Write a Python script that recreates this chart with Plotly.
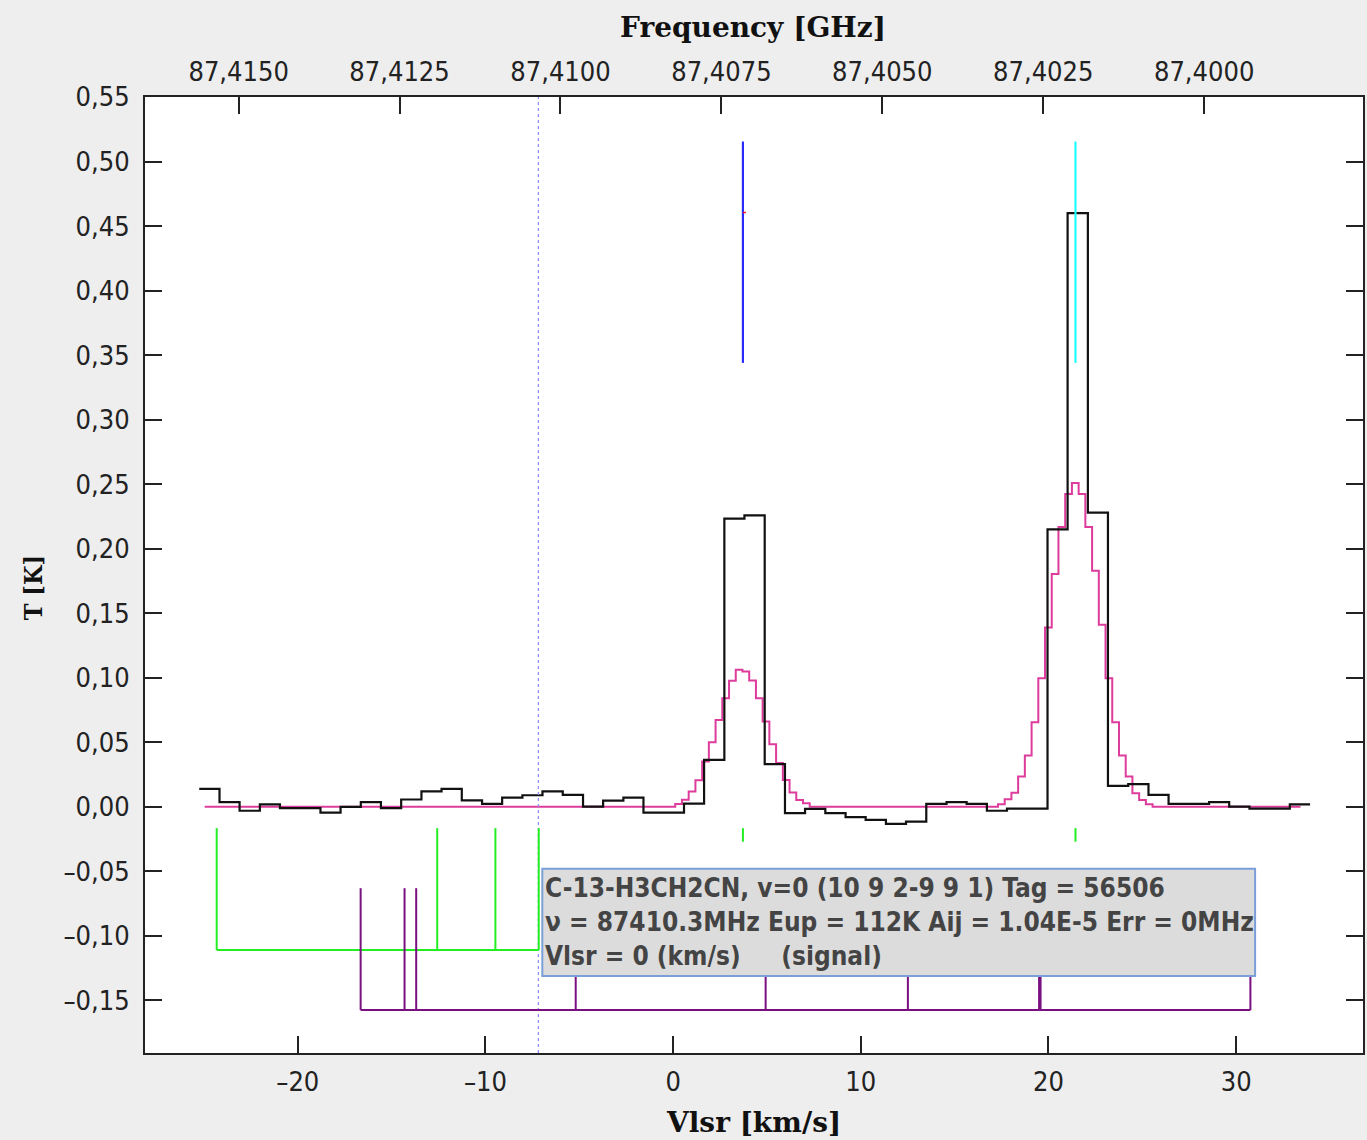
import plotly.graph_objects as go

# ---------------- data ----------------
# observed spectrum: channel left edges [km/s] (last value = right edge of last channel)
obs_vel = [-25.25, -24.17, -23.10, -22.02, -20.95, -19.87, -18.79, -17.72, -16.64, -15.57,
           -14.49, -13.41, -12.34, -11.26, -10.18, -9.11, -8.03, -6.96, -5.88, -4.80,
           -3.73, -2.65, -1.58, -0.50, 0.58, 1.65, 2.73, 3.80, 4.88, 5.96,
           7.03, 8.11, 9.19, 10.26, 11.34, 12.41, 13.49, 14.57, 15.64, 16.72,
           17.79, 18.87, 19.95, 21.02, 22.10, 23.17, 24.25, 25.33, 26.40, 27.48,
           28.56, 29.63, 30.71, 31.78, 32.86, 33.94]
obs_T = [0.014, 0.0036, -0.003, 0.002, -0.001, -0.001, -0.0045, 0.000, 0.0036, -0.001,
         0.0057, 0.012, 0.014, 0.005, 0.0023, 0.0072, 0.009, 0.012, 0.0093, 0.0002,
         0.0049, 0.0072, -0.0044, -0.0044, 0.0025, 0.0364, 0.2233, 0.2258, 0.0331, -0.0049,
         -0.0016, -0.0049, -0.008, -0.010, -0.0132, -0.0114, 0.0023, 0.0036, 0.0023, -0.003,
         -0.0013, -0.0013, 0.215, 0.460, 0.228, 0.0163, 0.0176, 0.0093, 0.0023, 0.0023,
         0.0036, 0.0002, -0.0013, -0.0013, 0.002]

# synthetic model spectrum: step left edges [km/s] and values [K]
model_vel = [-24.96,
             0.114, 0.472, 0.830, 1.189, 1.547, 1.905, 2.263, 2.621, 2.980, 3.338,
             3.696, 4.054, 4.413, 4.771, 5.129, 5.487, 5.846, 6.204, 6.562, 6.920,
             7.279,
             17.309, 17.668, 18.026, 18.384, 18.742, 19.101, 19.459, 19.817, 20.175, 20.533,
             20.892, 21.250, 21.608, 21.966, 22.325, 22.683, 23.041, 23.399, 23.758, 24.116,
             24.474, 24.832, 25.191, 25.549,
             33.43]
model_T = [0.0,
           0.0023, 0.0055, 0.0119, 0.0207, 0.0351, 0.0501, 0.0674, 0.0842, 0.0977, 0.1062,
           0.1049, 0.0979, 0.0842, 0.0661, 0.0486, 0.0339, 0.0209, 0.0111, 0.0054, 0.0028,
           0.0,
           0.002, 0.006, 0.011, 0.0235, 0.0398, 0.0656, 0.0997, 0.139, 0.1804, 0.2168,
           0.2424, 0.2509, 0.2424, 0.2168, 0.1829, 0.1411, 0.0997, 0.0656, 0.0398, 0.0235,
           0.0106, 0.0054, 0.002, 0.0,
           0.0]

# identified-line markers
blue_marker_vel = 3.72
cyan_marker_vel = 21.44
marker_T = [0.344, 0.5155]
red_mark_vel = [3.72, 3.88]
red_mark_T = 0.4605
selected_line_vel = -7.18

green_vel = [-24.32, -12.57, -9.47, -7.16]
green_short_vel = [3.72, 21.44]
green_T = [-0.0165, -0.1109]
green_short_T = [-0.0165, -0.027]

purple_vel = [-16.65, -14.31, -13.69, -5.19, 4.93, 12.51, 19.50, 19.58, 30.76]
purple_T = [-0.063, -0.1574]

# axis ticks
vel_ticks = [-20, -10, 0, 10, 20, 30]
vel_tick_text = ["\u201320", "\u201310", "0", "10", "20", "30"]
freq_ticks = [87.4150, 87.4125, 87.4100, 87.4075, 87.4050, 87.4025, 87.4000]
freq_tick_text = ["87,4150", "87,4125", "87,4100", "87,4075", "87,4050", "87,4025", "87,4000"]
T_ticks = [-0.15, -0.10, -0.05, 0.00, 0.05, 0.10, 0.15, 0.20, 0.25, 0.30, 0.35, 0.40, 0.45, 0.50, 0.55]
T_tick_text = ["\u20130,15", "\u20130,10", "\u20130,05", "0,00", "0,05", "0,10", "0,15", "0,20",
               "0,25", "0,30", "0,35", "0,40", "0,45", "0,50", "0,55"]

info_lines = ["C-13-H3CH2CN, v=0 (10 9 2-9 9 1) Tag = 56506",
              "\u03bd = 87410.3MHz Eup = 112K Aij = 1.04E-5 Err = 0MHz",
              "Vlsr = 0 (km/s)\u00a0\u00a0\u00a0\u00a0\u00a0(signal)"]
info_box_vel = [-6.97, 31.01]
info_box_T = [-0.048, -0.131]

# ---------------- figure ----------------
F0 = 87.40825   # GHz at Vlsr = 0
C = 299792.458
VRANGE = [-28.14, 36.76]
TRANGE = [-0.1907, 0.55]


def v2f(v):
    return F0 * (1 - v / C)


TICKFONT = dict(family="DejaVu Sans Condensed, DejaVu Sans", size=27, color="#222222")
TITLEFONT = dict(family="DejaVu Serif", size=28, color="#111111")
TITLEFONT_Y = dict(family="DejaVu Serif Condensed, DejaVu Serif", size=25, color="#111111")
AX = "#222222"

fig = go.Figure()

# model spectrum (magenta)
fig.add_trace(go.Scatter(x=model_vel, y=model_T, mode="lines", line=dict(color="#dd3c9c", width=2, shape="hv"),
                         hoverinfo="skip", showlegend=False))
# observed spectrum (black)
fig.add_trace(go.Scatter(x=obs_vel, y=obs_T + [obs_T[-1]], mode="lines",
                         line=dict(color="#111111", width=2.2, shape="hv"), hoverinfo="skip", showlegend=False))

# selected line (dashed blue)
fig.add_trace(go.Scatter(x=[selected_line_vel, selected_line_vel], y=TRANGE, mode="lines",
                         line=dict(color="#8a8aff", width=1.2, dash="dot"), hoverinfo="skip", showlegend=False))

# blue & cyan markers
fig.add_trace(go.Scatter(x=[blue_marker_vel, blue_marker_vel], y=marker_T, mode="lines",
                         line=dict(color="#2a2aff", width=2.2), hoverinfo="skip", showlegend=False))
fig.add_trace(go.Scatter(x=[cyan_marker_vel, cyan_marker_vel], y=marker_T, mode="lines",
                         line=dict(color="#22ffff", width=2.2), hoverinfo="skip", showlegend=False))
fig.add_trace(go.Scatter(x=red_mark_vel, y=[red_mark_T, red_mark_T], mode="lines",
                         line=dict(color="#ff2020", width=1.5), hoverinfo="skip", showlegend=False))

# green comb
gx, gy = [], []
for v in green_vel:
    gx += [v, v, None]
    gy += [green_T[0], green_T[1], None]
for v in green_short_vel:
    gx += [v, v, None]
    gy += [green_short_T[0], green_short_T[1], None]
gx += [min(green_vel), max(green_vel)]
gy += [green_T[1], green_T[1]]
fig.add_trace(go.Scatter(x=gx, y=gy, mode="lines", line=dict(color="#22ee22", width=2),
                         hoverinfo="skip", showlegend=False))

# purple comb
px_, py_ = [], []
for v in purple_vel:
    px_ += [v, v, None]
    py_ += [purple_T[0], purple_T[1], None]
px_ += [min(purple_vel), max(purple_vel)]
py_ += [purple_T[1], purple_T[1]]
fig.add_trace(go.Scatter(x=px_, y=py_, mode="lines", line=dict(color="#7a1080", width=2),
                         hoverinfo="skip", showlegend=False))

# invisible trace for the top frequency axis
fig.add_trace(go.Scatter(x=[v2f(VRANGE[0]), v2f(VRANGE[1])], y=[0, 0], xaxis="x2", mode="lines",
                         line=dict(width=0), opacity=0, hoverinfo="skip", showlegend=False))

# info box
fig.add_shape(type="rect", xref="x", yref="y", x0=info_box_vel[0], x1=info_box_vel[1],
              y0=info_box_T[0], y1=info_box_T[1], fillcolor="#dcdcdc",
              line=dict(color="#7b9fd8", width=2), layer="above")
fig.add_annotation(x=info_box_vel[0], y=info_box_T[0], xref="x", yref="y", xanchor="left", yanchor="top",
                   xshift=1, yshift=-2, showarrow=False, align="left",
                   text="<br>".join("<b>%s</b>" % s for s in info_lines),
                   font=dict(family="DejaVu Sans Condensed, DejaVu Sans", size=26, color="#444444"))

# axis titles
fig.add_annotation(x=0.4992, y=1.0722, xref="paper", yref="paper", xanchor="center", yanchor="middle",
                   showarrow=False, text="<b>Frequency [GHz]</b>", font=TITLEFONT)
fig.add_annotation(x=0.4992, y=-0.0722, xref="paper", yref="paper", xanchor="center", yanchor="middle",
                   showarrow=False, text="<b>Vlsr [km/s]</b>", font=TITLEFONT)
fig.add_annotation(x=-0.0918, y=0.4864, xref="paper", yref="paper", xanchor="center", yanchor="middle",
                   showarrow=False, textangle=-90, text="<b>T [K]</b>", font=TITLEFONT_Y)

common = dict(showgrid=False, zeroline=False, showline=True, linecolor=AX, linewidth=2,
              ticks="inside", ticklen=17, tickwidth=2, tickcolor=AX, tickfont=TICKFONT)

fig.update_layout(
    width=1367, height=1140,
    margin=dict(l=145, r=2, t=97, b=87),
    paper_bgcolor="#eeeeee", plot_bgcolor="#ffffff",
    xaxis=dict(range=VRANGE, tickmode="array", tickvals=vel_ticks, ticktext=vel_tick_text,
               ticklabelstandoff=4, **common),
    xaxis2=dict(range=[v2f(VRANGE[0]), v2f(VRANGE[1])], overlaying="x", side="top", anchor="y",
                tickmode="array", tickvals=freq_ticks, ticktext=freq_tick_text,
                ticklabelstandoff=3, **common),
    yaxis=dict(range=TRANGE, tickmode="array", tickvals=T_ticks, ticktext=T_tick_text, mirror="ticks",
               ticklabelstandoff=8, **common),
    showlegend=False,
)

fig.write_html("out.html", config={"displayModeBar": False},
               post_script="document.body.style.margin='0';document.body.style.overflow='hidden';")
